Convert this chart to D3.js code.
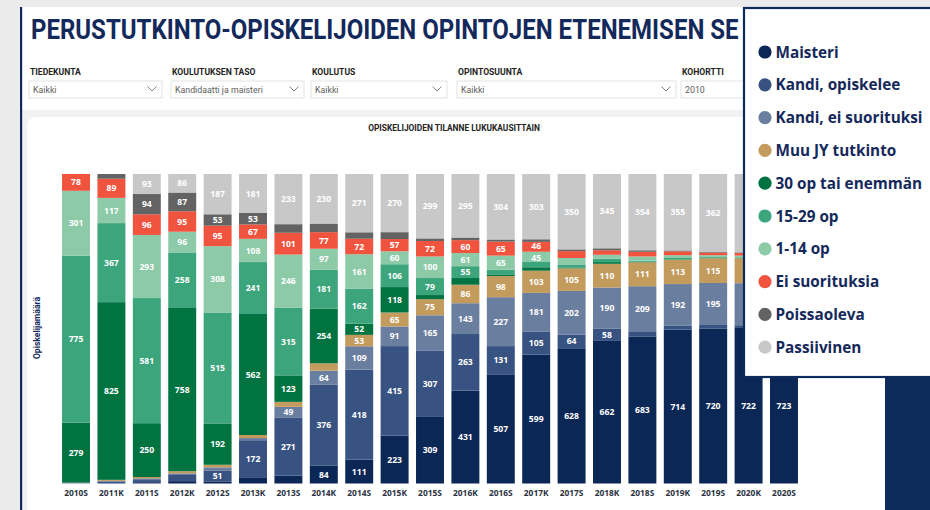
<!DOCTYPE html>
<html><head><meta charset="utf-8">
<script src="https://cdn.jsdelivr.net/npm/d3@7"></script>
<style>
html,body{margin:0;padding:0;background:#ebebeb;overflow:hidden;}
svg{display:block;}
</style></head><body>
<svg id="c" width="930" height="510"></svg>
<script>
// ---- data ----
const periods = ["2010S","2011K","2011S","2012K","2012S","2013K","2013S","2014K","2014S","2015K","2015S","2016K","2016S","2017K","2017S","2018K","2018S","2019K","2019S","2020K","2020S"];
const seriesNames = ["Maisteri","Kandi, opiskelee","Kandi, ei suorituksi","Muu JY tutkinto","30 op tai enemmän","15-29 op","1-14 op","Ei suorituksia","Poissaoleva","Passiivinen"];
const seriesColors = ["#0b2756","#385382","#6a7ea0","#c39b5c","#007341","#3ca57b","#8dcaa8","#f0543f","#636363","#c8c8c8"];
const maisteri          = [0,0,2,11,10,29,36,84,111,223,309,431,507,599,628,662,683,714,720,722,723];
const kandiOpiskelee    = [0,8,14,32,51,172,271,376,418,415,307,263,131,105,64,58,24,20,16,13,12];
const kandiEiSuorituksi = [4,4,8,4,14,10,49,64,109,91,165,143,227,181,202,190,209,192,195,195,195];
const muuJyTutkinto     = [0,5,6,10,12,14,23,34,53,65,75,86,98,103,105,110,111,113,115,116,116];
const op30TaiEnemman    = [279,825,250,758,192,562,123,254,52,118,19,31,8,16,4,8,3,2,1,1,1];
const op15to29          = [775,367,581,258,515,241,315,181,162,106,79,55,22,27,14,16,5,6,4,3,3];
const op1to14           = [301,117,293,96,308,108,246,97,161,60,100,61,65,45,30,18,19,13,9,8,8];
const eiSuorituksia     = [78,89,96,95,95,67,101,77,72,57,72,60,65,46,32,21,22,18,12,12,11];
const poissaoleva       = [0,22,94,87,53,53,40,40,30,32,12,12,10,12,8,9,7,4,3,3,3];
const passiivinen       = [0,0,93,86,187,181,233,230,271,270,299,295,304,303,350,345,354,355,362,364,365];
const filterLabels = ["TIEDEKUNTA","KOULUTUKSEN TASO","KOULUTUS","OPINTOSUUNTA","KOHORTTI"];
const filterValues = ["Kaikki","Kandidaatti ja maisteri","Kaikki","Kaikki","2010"];
const pageTitle = "PERUSTUTKINTO-OPISKELIJOIDEN OPINTOJEN ETENEMISEN SE";
const chartTitle = "OPISKELIJOIDEN TILANNE LUKUKAUSITTAIN";
const yTitle = "Opiskelijamäärä";

const seriesData = [maisteri,kandiOpiskelee,kandiEiSuorituksi,muuJyTutkinto,op30TaiEnemman,op15to29,op1to14,eiSuorituksia,poissaoleva,passiivinen];
const table = periods.map((p,i)=>{
  const row = {period:p};
  seriesNames.forEach((s,j)=>row[s]=seriesData[j][i]);
  return row;
});

const svg = d3.select("#c");
const NAVY = "#13295b";

// legend overlay box geometry (drawn last, on top)
const LEG = {x:744, y:8, w:200, h:369};

// ---- page background / cards ----
svg.append("rect").attr("x",0).attr("y",0).attr("width",930).attr("height",510).attr("fill","#ebebeb");
svg.append("rect").attr("x",22).attr("y",7).attr("width",908).attr("height",103).attr("fill","#ffffff");
svg.append("rect").attr("x",22).attr("y",110).attr("width",908).attr("height",400).attr("fill","#f2f2f2");
svg.append("rect").attr("x",20).attr("y",7).attr("width",2.2).attr("height",503).attr("fill",NAVY);
svg.append("rect").attr("x",27).attr("y",117).attr("width",920).attr("height",410).attr("rx",9).attr("fill","#ffffff");
svg.append("rect").attr("x",885).attr("y",377).attr("width",45).attr("height",133).attr("fill","#0d2a5c");

// ---- page title (condensed by horizontal scaling to fit the visible width) ----
const tt = svg.append("text").attr("x",0).attr("y",0)
  .attr("font-family","'Liberation Sans Narrow', Roboto, 'Liberation Sans', sans-serif")
  .attr("font-weight",700).attr("font-size",28.5).attr("fill",NAVY)
  .text(pageTitle);
const natural = tt.node().getComputedTextLength() || 710;
tt.attr("transform",`translate(31,38.5) scale(${708/natural},1)`);

// ---- filters ----
const fx = [30,172,312,458,682];
const fw = [133,133,136,219,120];
const fg = svg.append("g");
filterLabels.forEach((l,i)=>{
  fg.append("text").attr("x",fx[i]).attr("y",75).attr("font-family","Roboto, sans-serif")
    .attr("font-weight",700).attr("font-size",8.6).attr("fill","#252423").text(l);
  fg.append("rect").attr("x",fx[i]-1).attr("y",81).attr("width",fw[i]).attr("height",17)
    .attr("fill","#fff").attr("stroke","#e3e3e3").attr("stroke-width",1);
  fg.append("text").attr("x",fx[i]+3).attr("y",93).attr("font-family","Roboto, sans-serif")
    .attr("font-size",8.8).attr("fill","#605e5c").text(filterValues[i]);
  const cx = fx[i]-1+fw[i]-10;
  fg.append("path").attr("d",`M${cx-4.5},86.5 L${cx},91 L${cx+4.5},86.5`)
    .attr("fill","none").attr("stroke","#777").attr("stroke-width",0.9);
});

// ---- chart ----
svg.append("text").attr("x",454).attr("y",131).attr("text-anchor","middle")
  .attr("font-family","Roboto, sans-serif").attr("font-weight",700).attr("font-size",8.4)
  .attr("fill","#252423").text(chartTitle);

svg.append("text").attr("transform","translate(40,328) rotate(-90)").attr("text-anchor","middle")
  .attr("font-family","Roboto, sans-serif").attr("font-weight",700).attr("font-size",8.6)
  .attr("fill",NAVY).text(yTitle);

const x = d3.scaleBand().domain(periods).range([58.5,801.5]).paddingInner(0.21).paddingOuter(0.1);
const y = d3.scaleLinear().domain([0,1]).range([483.5,174]);
const stack = d3.stack().keys(seriesNames).offset(d3.stackOffsetExpand);
const stacked = stack(table);
const color = d3.scaleOrdinal().domain(seriesNames).range(seriesColors);

const bars = svg.append("g");
stacked.forEach(layer=>{
  bars.append("g").attr("fill",color(layer.key))
    .selectAll("rect").data(layer).join("rect")
    .attr("x",d=>x(d.data.period))
    .attr("width",x.bandwidth())
    .attr("y",d=>y(d[1]))
    .attr("height",d=>Math.max(0,y(d[0])-y(d[1])));
});

// data labels: collected per bar, then nudged apart if two sit too close
const labelFont = 8.6, minGap = 12;
const perBar = new Map(periods.map(p=>[p,[]]));
stacked.forEach(layer=>{
  layer.forEach(d=>{
    const v = d.data[layer.key];
    const lx = x(d.data.period)+x.bandwidth()/2;
    const ly = (y(d[0])+y(d[1]))/2;
    const hidden = lx > LEG.x - 12 && ly < LEG.y + LEG.h + 6; // covered by the legend overlay
    if (v >= 44 && !hidden) perBar.get(d.data.period).push({v, lx, ly});
  });
});
const labels = svg.append("g").attr("font-family","'Open Sans', sans-serif").attr("font-weight",700)
  .attr("font-size",labelFont).attr("fill","#ffffff").attr("text-anchor","middle");
perBar.forEach(list=>{
  list.sort((a,b)=>b.ly-a.ly); // bottom to top
  for (let k=1;k<list.length;k++){
    const lower=list[k-1], upper=list[k];
    const gap = lower.ly - upper.ly;
    if (gap < minGap){ const s=(minGap-gap)/2; lower.ly+=s; upper.ly-=s; }
  }
  list.forEach(o=>labels.append("text").attr("x",o.lx).attr("y",o.ly).attr("dy","0.36em").text(o.v));
});

const xAxis = svg.append("g").attr("transform","translate(0,483)")
  .call(d3.axisBottom(x).tickSize(0).tickPadding(7));
xAxis.select(".domain").remove();
xAxis.selectAll("text").attr("font-family","'Open Sans', sans-serif").attr("font-weight",700)
  .attr("font-size",8.4).attr("fill","#2b3140");

// ---- legend overlay ----
const lg = svg.append("g");
lg.append("rect").attr("x",LEG.x).attr("y",LEG.y).attr("width",LEG.w).attr("height",LEG.h)
  .attr("fill","#fff").attr("stroke","#0d2a5c").attr("stroke-width",2.2);
seriesNames.forEach((s,i)=>{
  const cy = 52 + i*32.8;
  lg.append("circle").attr("cx",765).attr("cy",cy).attr("r",6.6).attr("fill",seriesColors[i]);
  lg.append("text").attr("x",775.5).attr("y",cy).attr("dy","0.36em")
    .attr("font-family","'Open Sans', sans-serif").attr("font-weight",700).attr("font-size",15.3)
    .attr("fill","#14285a").text(s);
});
</script>
</body></html>
